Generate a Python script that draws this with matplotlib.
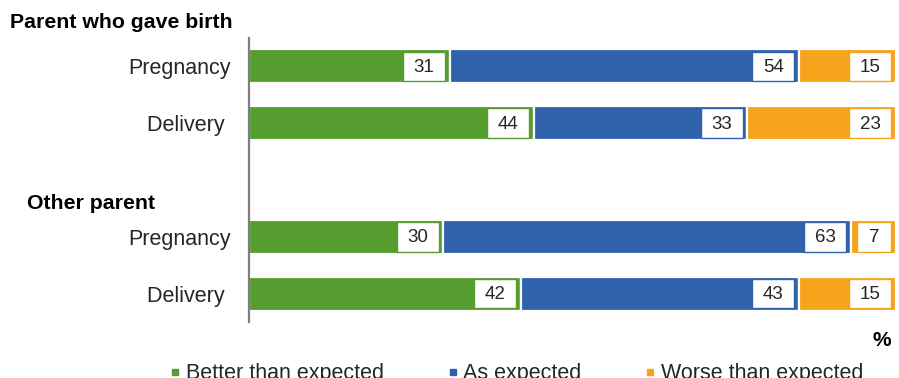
import matplotlib.pyplot as plt
from matplotlib.patches import Rectangle
from matplotlib.lines import Line2D

plt.rcParams['font.family'] = ['Liberation Sans', 'DejaVu Sans']

# rows from top to bottom, one blank slot between the two groups
row_labels = ['Pregnancy', 'Delivery ', 'Pregnancy', 'Delivery ']
row_pos = [0, 1, 3, 4]
groups = ['Parent who gave birth', 'Other parent']

series = ['Better than expected', 'As expected', 'Worse than expected']
better = [31, 44, 30, 42]
as_expected = [54, 33, 63, 43]
worse = [15, 23, 7, 15]
colors = ['#559D2F', '#3062AC', '#F7A41D']

W, H = 899, 378
fig = plt.figure(figsize=(W / 100, H / 100), dpi=100)
ax = fig.add_axes([249 / W, (H - 322) / H, (896 - 249) / W, (322 - 38) / H])

px_per_unit = (896 - 249) / 100.0
box_h = 0.52

left = [0] * len(better)
for name, vals, col in zip(series, [better, as_expected, worse], colors):
    ax.barh(row_pos, vals, left=left, height=0.6, color=col,
            edgecolor='white', linewidth=1.6, label=name)
    for y, l, v in zip(row_pos, left, vals):
        txt = str(v)
        bw = (26 + 8 * len(txt)) / px_per_unit
        x1 = l + v - 0.7
        ax.add_patch(Rectangle((x1 - bw, y - box_h / 2), bw, box_h,
                               facecolor='white', edgecolor=col, linewidth=1.0, zorder=3))
        ax.text(x1 - bw / 2, y + 0.02, txt, ha='center', va='center',
                fontsize=13.5, color='#262626', zorder=4)
    left = [a + b for a, b in zip(left, vals)]

ax.set_xlim(0, 100)
ax.set_ylim(4.5, -0.5)
ax.set_yticks(row_pos)
ax.set_yticklabels(row_labels, fontsize=15.5, color='#262626')
ax.tick_params(axis='y', length=0, pad=13)
ax.set_xticks([])
for s in ['top', 'right', 'bottom']:
    ax.spines[s].set_visible(False)
ax.spines['left'].set_color('#7f7f7f')
ax.spines['left'].set_linewidth(1.6)

# group headings
fig.text(10 / W, 1 - 23 / H, groups[0], ha='left', va='center',
         fontsize=15.3, fontweight='bold', color='black')
fig.text(27 / W, 1 - 203 / H, groups[1], ha='left', va='center',
         fontsize=15.3, fontweight='bold', color='black')
fig.text(882 / W, 1 - 341 / H, '%', ha='center', va='center',
         fontsize=15, fontweight='bold', color='black')

handles = [Line2D([], [], marker='s', linestyle='none', markersize=5,
                  markerfacecolor=c, markeredgecolor=c) for c in colors]
fig.legend(handles, series, loc='center', bbox_to_anchor=(516 / W, 4 / H),
           ncol=3, frameon=False, fontsize=15.5, handlelength=0.6,
           handletextpad=0.2, columnspacing=2.9, labelcolor='#262626')

fig.savefig('out.png', dpi=100)
